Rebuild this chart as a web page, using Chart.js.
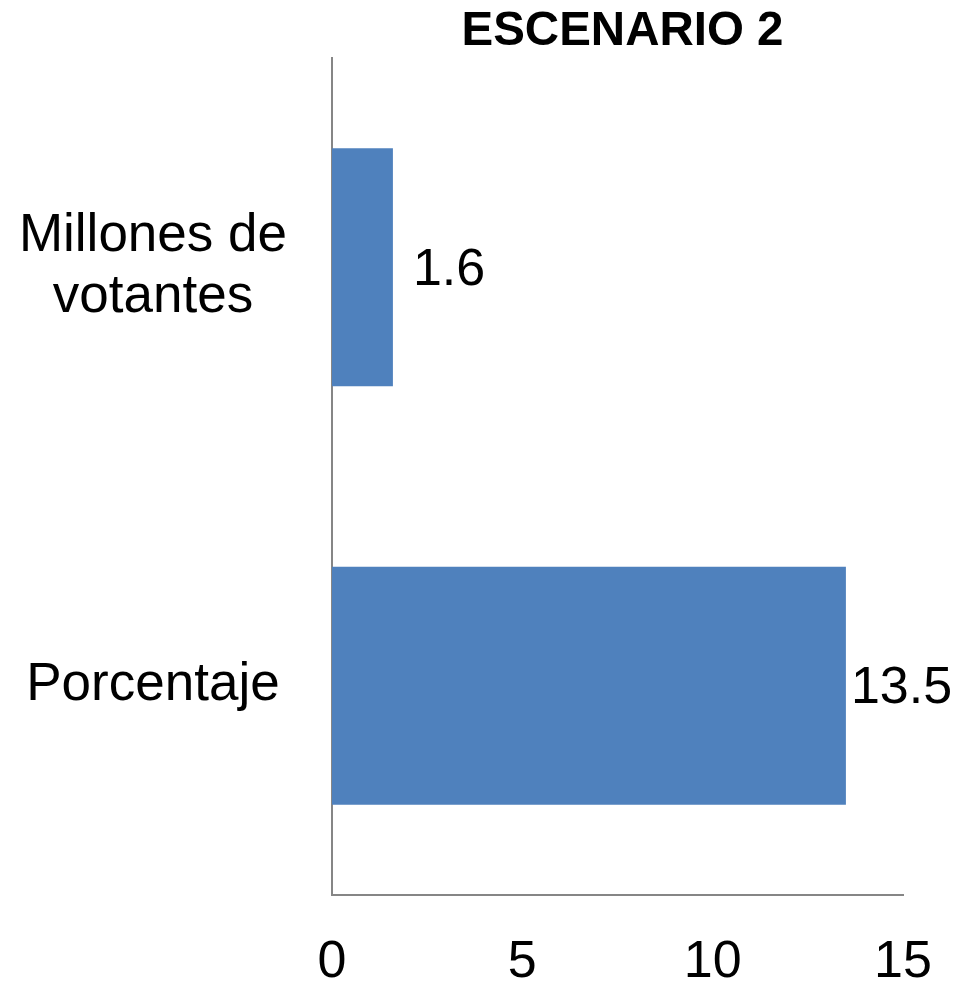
<!DOCTYPE html>
<html>
<head>
<meta charset="utf-8">
<script src="https://cdn.jsdelivr.net/npm/chart.js@4"></script>
<style>
  body { margin: 0; background: #fff; }
</style>
</head>
<body>
<canvas id="mycanvas" width="973" height="981"></canvas>
<script>
var categories = [['Millones de', 'votantes'], ['Porcentaje']];
var values = [1.6, 13.5];
var valueLabels = ['1.6', '13.5'];
var xTicks = [0, 5, 10, 15];
var chartTitle = 'ESCENARIO 2';

var fontFamily = 'Arial, "Liberation Sans", sans-serif';

// title centred over the plot area, values at the bar ends
var drawExtras = {
	id: 'drawExtras',
	afterDatasetsDraw: function(chart) {
		var ctx = chart.ctx;
		var area = chart.chartArea;
		ctx.save();
		ctx.fillStyle = '#000';
		ctx.font = 'bold 47.5px ' + fontFamily;
		ctx.textAlign = 'center';
		ctx.textBaseline = 'middle';
		ctx.fillText(chartTitle, (area.left + area.right) / 2 + 5, 32);

		ctx.font = '52px ' + fontFamily;
		ctx.textAlign = 'left';
		var meta = chart.getDatasetMeta(0);
		meta.data.forEach(function(bar, i) {
			ctx.fillText(valueLabels[i], bar.x + (i === 0 ? 20 : 5), bar.y + 3);
		});
		ctx.restore();
	}
};

var ctx = document.getElementById('mycanvas');

var barGraph = new Chart(ctx, {
	type: 'bar',
	data: {
		labels: categories,
		datasets: [{
			data: values,
			backgroundColor: '#4F81BD',
			borderWidth: 0,
			categoryPercentage: 1,
			barPercentage: 0.569
		}]
	},
	options: {
		indexAxis: 'y',
		responsive: false,
		animation: false,
		layout: { padding: { left: 0, right: 70, top: 58, bottom: 0 } },
		plugins: {
			legend: { display: false },
			tooltip: { enabled: false },
			title: { display: false }
		},
		scales: {
			x: {
				min: 0,
				max: 15,
				afterBuildTicks: function(scale) {
					scale.ticks = xTicks.map(function(v) { return { value: v }; });
				},
				grid: { display: false, drawTicks: false },
				border: { display: true, color: '#868686', width: 2 },
				ticks: {
					color: '#000',
					padding: 36,
					maxRotation: 0,
					font: { family: fontFamily, size: 52 }
				},
				afterFit: function(scale) {
					scale.height = 86;
					scale.paddingLeft = 0;
					scale.paddingRight = 0;
				}
			},
			y: {
				grid: { display: false, drawTicks: false },
				border: { display: true, color: '#868686', width: 2 },
				ticks: {
					color: '#000',
					padding: 45,
					crossAlign: 'center',
					font: { family: fontFamily, size: 53, lineHeight: 1.15 }
				},
				afterFit: function(scale) {
					scale.width = 332;
					scale.paddingTop = 0;
					scale.paddingBottom = 0;
				}
			}
		}
	},
	plugins: [drawExtras]
});
</script>
</body>
</html>
